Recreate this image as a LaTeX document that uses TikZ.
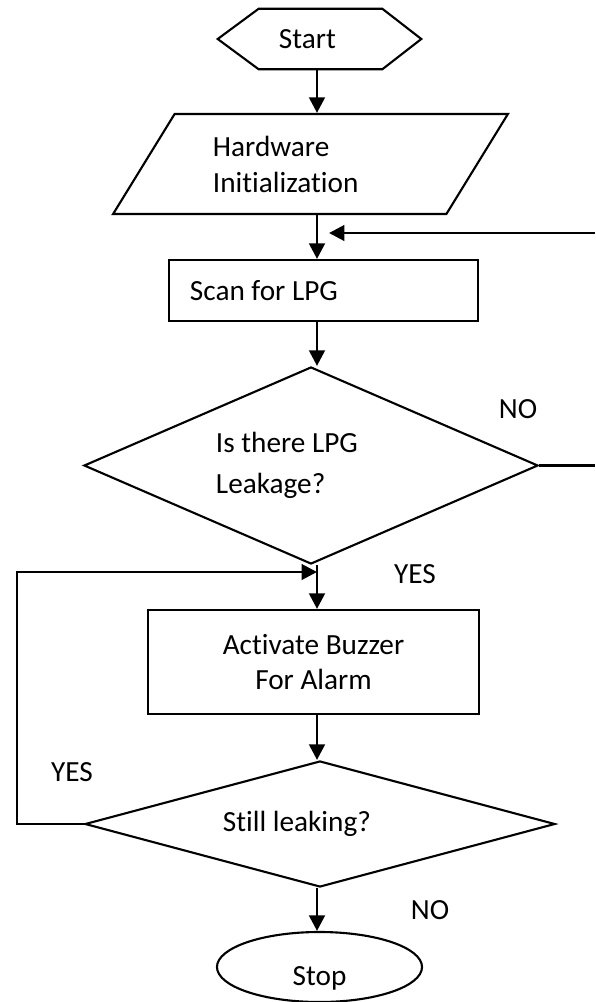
\documentclass[tikz,border=0pt]{standalone}
\usepackage{fontspec}
\setmainfont{Carlito}[Ligatures=NoCommon]
\usetikzlibrary{shapes.geometric,arrows.meta,calc}

\tikzset{
  txt/.style={font=\fontsize{20.8}{25.6}\selectfont},
  shp/.style={draw, line width=1.5pt, inner sep=0pt, txt},
  flow/.style={line width=2.1pt, -{Triangle[length=11pt,width=11pt]}},
  wire/.style={line width=2.1pt},
}

\begin{document}
\begin{tikzpicture}[x=0.025cm, y=-0.025cm]
\useasboundingbox (0,0) rectangle (595,1002);

% boxes
\node[txt, inner sep=0pt, minimum width=3.075cm, minimum height=1.5cm, text width=2.075cm, align=flush left] (start) at (320.5,39) {Start};
\draw[line width=1.5pt] (start.north west) -- (start.north east) -- ($(start.east)+(39,0)$)
  -- (start.south east) -- (start.south west) -- ($(start.west)+(-41,0)$) -- cycle;
\node[shp, trapezium, trapezium left angle=52, trapezium right angle=128, trapezium stretches=true,
  minimum width=9.875cm, minimum height=2.5cm, text width=4.875cm, align=flush left] (hw) at (310.5,164) {Hardware\\Initialization};
\node[shp, rectangle, minimum width=7.725cm, minimum height=1.525cm, text width=6.675cm, align=flush left] (scan) at (323.5,290.5) {Scan for LPG};
\node[shp, diamond, aspect=2.3, minimum width=11.35cm, minimum height=4.925cm, text width=4.75cm, align=flush left,
  font=\fontsize{20.8}{29}\selectfont] (leak) at (311,465.5) {Is there LPG\\Leakage?};
\node[shp, rectangle, minimum width=8.275cm, minimum height=2.6cm, align=center,
  font=\fontsize{20.8}{25}\selectfont] (buzz) at (313.5,662) {Activate Buzzer\\For Alarm};
\node[shp, diamond, aspect=3.7, minimum width=11.75cm, minimum height=3.15cm, text width=4.85cm, align=flush left] (still) at (320,824) {Still leaking?};
\node[shp, ellipse, minimum width=5.125cm, minimum height=1.75cm, text height=25.6pt, text depth=0pt] (stop) at (319.5,967) {Stop};

% labels
\node[txt] (no1) at (518,409) {NO};
\node[txt] (yes1) at (415,574) {YES};
\node[txt] (yes2) at (72,772) {YES};
\node[txt] (no2) at (430,910) {NO};

% connectors
\coordinate (axis) at (317,0);
\coordinate (back) at (595,233);
\coordinate (noend) at (595,465.5);
\coordinate (loop) at (17,572);

\draw[flow] (start.south -| axis) -- (hw.north -| axis);
\draw[flow] (hw.south -| axis) -- (scan.north -| axis);
\draw[flow] (back) -- ($(back -| axis)+(12,0)$);
\draw[flow] (scan.south -| axis) -- (leak.north -| axis);
\draw[wire] (leak.east) -- (noend);
\draw[flow] (leak.south -| axis) -- (buzz.north -| axis);
\draw[flow] (buzz.south -| axis) -- (still.north -| axis);
\draw[flow] (still.west) -| (loop) -- (loop -| axis);
\draw[flow] (still.south -| axis) -- (stop.north -| axis);

\end{tikzpicture}
\end{document}
